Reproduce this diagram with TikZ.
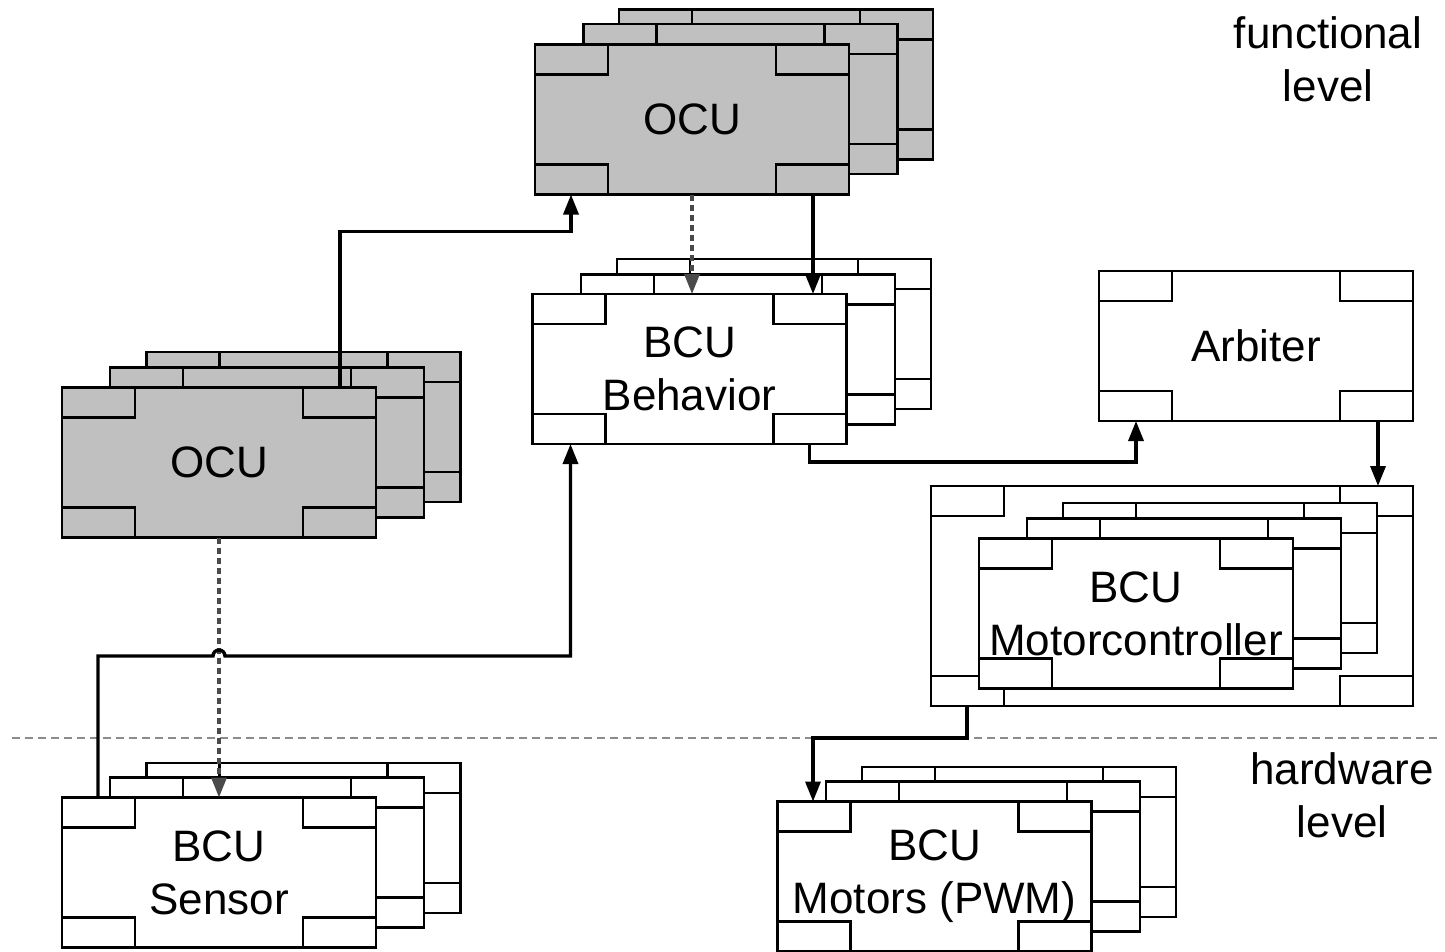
\documentclass[tikz,border=0pt]{standalone}
\usepackage{fontspec}
\setmainfont{Liberation Sans}
\usetikzlibrary{arrows.meta}

\definecolor{ocugray}{HTML}{C0C0C0}
\definecolor{hintgray}{HTML}{4A4A4A}
\definecolor{levelgray}{HTML}{8C8C8C}

\newcommand{\unitfont}{\fontsize{44}{53}\selectfont}

\tikzset{
  unit/.style={draw, line width=2.6pt, fill=white, inner sep=0pt, outer sep=0pt,
    minimum width=314pt, minimum height=150pt, align=center, font=\unitfont,
    path picture={
      \draw[line width=2.6pt] (path picture bounding box.north west) rectangle ++(73,30);
      \draw[line width=2.6pt] (path picture bounding box.north east) rectangle ++(-73,30);
      \draw[line width=2.6pt] (path picture bounding box.south west) rectangle ++(73,-30);
      \draw[line width=2.6pt] (path picture bounding box.south east) rectangle ++(-73,-30);
    }},
  ocu/.style={unit, fill=ocugray},
  flow/.style={line width=3.4pt, -{Triangle[length=20pt,width=15pt]}},
  hint/.style={line width=3.2pt, hintgray, dash pattern=on 6pt off 4pt,
    -{Triangle[length=20pt,width=15pt]}},
  divider/.style={line width=2.8pt, levelgray, dash pattern=on 8pt off 5pt},
  lbl/.style={align=center, font=\unitfont, inner sep=0pt},
}

\begin{document}
\begin{tikzpicture}[x=1pt, y=-1pt, line cap=butt, line join=miter]

  \useasboundingbox (0,0) rectangle (1445,951);

  %% ════ functional level: OCU stacks ════
  \node[ocu] (ocuT3) at (776,84.5) {};
  \node[ocu] (ocuT2) at (740.5,99) {};
  \node[ocu] (ocuT) at (692,119.5) {OCU};

  \node[ocu] (ocuL3) at (303.5,427) {};
  \node[ocu] (ocuL2) at (267,442.5) {};
  \node[ocu] (ocuL) at (219,462.5) {OCU};

  %% ════ BCU behavior / arbiter ════
  \node[unit] (behav3) at (774,334) {};
  \node[unit] (behav2) at (738,349.5) {};
  \node[unit] (behav) at (689.5,369) {BCU\\Behavior};

  \node[unit] (arb) at (1256,346) {Arbiter};

  %% ════ motorcontroller (frame + stack inside) ════
  \node[unit, minimum width=482pt, minimum height=220pt] (mcFrame) at (1172,596) {};
  \node[unit] (mc3) at (1220,578) {};
  \node[unit] (mc2) at (1184,593.5) {};
  \node[unit] (mc) at (1136,613.5) {BCU\\Motorcontroller};

  %% ════ hardware level ════
  \node[unit] (sensor3) at (303.5,838) {};
  \node[unit] (sensor2) at (267,852.5) {};
  \node[unit] (sensor) at (219,872.5) {BCU\\Sensor};

  \node[unit] (motors3) at (1019,842) {};
  \node[unit] (motors2) at (983,856.5) {};
  \node[unit] (motors) at (934.5,876.5) {BCU\\Motors (PWM)};

  % level border first, the connector runs over it
  \draw[divider] (12,738) -- (1440,738);

  \node[lbl] (funcLbl) at (1328,59) {functional\\level};
  \node[lbl] (hwLbl) at (1342,795) {hardware\\level};

  %% ════ connectors ════
  \draw[flow] ([xshift=121pt]ocuL.north) |- ([xshift=-121pt,yshift=-37pt]ocuT.south) -- ([xshift=-121pt]ocuT.south);
  \draw[hint] (ocuT.south) -- (ocuT.south |- behav.north);
  \draw[flow] ([xshift=121pt]ocuT.south) -- ([xshift=121pt]ocuT.south |- behav.north);
  \draw[hint] (ocuL.south) -- (sensor.north);
  % small hop over the dotted line
  \draw[flow] ([xshift=-121pt]sensor.north) |- ([xshift=-6pt]ocuL.south |- 0,656)
    arc[start angle=180, end angle=0, radius=6pt] -| ([xshift=-119pt]behav.south);
  \draw[flow] ([xshift=120pt]behav.south) -- ++(0,18) -| ([xshift=-120pt]arb.south);
  \draw[flow] ([xshift=122pt]arb.south) -- ([xshift=122pt]arb.south |- mcFrame.north);
  \draw[flow] ([xshift=-205pt]mcFrame.south) -- ++(0,32) -| ([xshift=-121.5pt]motors.north);

\end{tikzpicture}
\end{document}
